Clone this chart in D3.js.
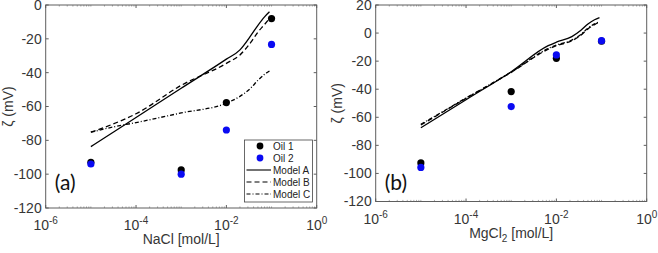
<!DOCTYPE html>
<html>
<head>
<meta charset="utf-8">
<script src="https://cdn.jsdelivr.net/npm/d3@7"></script>
<style>
  body { margin: 0; background: #fff; }
  svg { display: block; font-family: "Liberation Sans", Arial, sans-serif; }
</style>
</head>
<body>
<svg id="chart" width="658" height="253"></svg>
<script>
// measured concentrations (mol/L)
const conc = [1e-5, 1e-3, 1e-2, 1e-1];

// panel (a): NaCl
const naclOil1 = [-93, -97.5, -57.7, -8];
const naclOil2 = [-94, -100, -73.9, -23.3];
const naclModelX = [1e-5, 3e-5, 1e-4, 1e-3, 1e-2, 2e-2, 3.5e-2, 5e-2, 7e-2, 9e-2];
const naclModelA = [-83.7, -75.5, -66.5, -49.2, -32, -26.5, -18, -12, -7, -4];
const naclModelB = [-75.2, -70.5, -64.3, -47.5, -34.5, -29.5, -22, -16, -11.5, -8];
const naclModelC = [-75.2, -72.2, -69.5, -63.8, -58, -54, -49, -44.5, -41, -39];

// panel (b): MgCl2
const mgOil1 = [-92.5, -41.7, -18, -5.8];
const mgOil2 = [-95.7, -52.4, -15.6, -5.4];
const mgModelX = [1e-5, 1e-4, 1e-3, 6.6e-3, 1e-2, 2.2e-2, 3.5e-2, 5e-2, 7e-2, 9e-2];
const mgModelA = [-67.5, -47.5, -27.5, -9, -6.5, -2.5, 2, 6.5, 9.5, 11];
const mgModelB = [-65.5, -46.5, -28, -11.5, -9, -5.5, -1.5, 3, 6, 8];
const mgModelC = [-65, -46.3, -27.8, -11, -8.5, -5, -1, 3.5, 6.5, 8];

const xTicks = [1e-6, 1e-4, 1e-2, 1];
const xTickExp = ["-6", "-4", "-2", "0"];
const yTicksA = [0, -20, -40, -60, -80, -100, -120];
const yTicksB = [20, 0, -20, -40, -60, -80, -100, -120];

const legendNames = ["Oil 1", "Oil 2", "Model A", "Model B", "Model C"];
const oilColors = ["#000000", "#0a0af2"];
const dashes = [null, "5,3", "4,2,1,2"];

const svg = d3.select("#chart");
const axisColor = "#5e5e5e", textColor = "#363636";

function zip(xs, ys) { return xs.map((v, i) => [v, ys[i]]); }

function panel(opt) {
  let x = d3.scaleLog().domain([1e-6, 1]).range([opt.left, opt.right]);
  let y = d3.scaleLinear().domain(opt.yDomain).range([opt.bottom, opt.top]);
  let g = svg.append("g");

  // minor log ticks on top and bottom
  let minor = [];
  for (let e = -6; e < 0; e++)
    for (let k = 1; k < 10; k++) minor.push(k * Math.pow(10, e));
  minor = minor.filter(v => xTicks.every(t => Math.abs(Math.log10(v) - Math.log10(t)) > 1e-6));

  g.selectAll(".minb").data(minor).enter().append("line")
    .attr("x1", d => x(d)).attr("x2", d => x(d))
    .attr("y1", opt.bottom).attr("y2", opt.bottom - 1.6)
    .attr("stroke", "#8a8a8a").attr("stroke-width", 0.7);
  g.selectAll(".mint").data(minor).enter().append("line")
    .attr("x1", d => x(d)).attr("x2", d => x(d))
    .attr("y1", opt.top).attr("y2", opt.top + 1.6)
    .attr("stroke", "#8a8a8a").attr("stroke-width", 0.7);

  // major ticks
  xTicks.forEach(t => {
    g.append("line").attr("x1", x(t)).attr("x2", x(t))
      .attr("y1", opt.bottom).attr("y2", opt.bottom - 3)
      .attr("stroke", axisColor);
    g.append("line").attr("x1", x(t)).attr("x2", x(t))
      .attr("y1", opt.top).attr("y2", opt.top + 3)
      .attr("stroke", axisColor);
  });
  opt.yTicks.forEach(t => {
    g.append("line").attr("x1", opt.left).attr("x2", opt.left + 3)
      .attr("y1", y(t)).attr("y2", y(t)).attr("stroke", axisColor);
    g.append("line").attr("x1", opt.right).attr("x2", opt.right - 3)
      .attr("y1", y(t)).attr("y2", y(t)).attr("stroke", axisColor);
  });

  g.append("rect")
    .attr("x", opt.left).attr("y", opt.top)
    .attr("width", opt.right - opt.left).attr("height", opt.bottom - opt.top)
    .attr("fill", "none").attr("stroke", axisColor).attr("stroke-width", 1);

  // tick labels
  g.selectAll(".yl").data(opt.yTicks).enter().append("text")
    .attr("x", opt.left - 4).attr("y", d => y(d))
    .attr("dy", "0.35em").attr("text-anchor", "end")
    .attr("font-size", 14).attr("fill", textColor)
    .text(d => d);

  xTicks.forEach((t, i) => {
    let tx = g.append("text")
      .attr("x", x(t)).attr("y", opt.bottom + 22)
      .attr("text-anchor", "middle").attr("fill", textColor)
      .attr("font-size", 14);
    tx.append("tspan").text("10");
    tx.append("tspan").attr("dy", -6).attr("font-size", 10).text(xTickExp[i]);
  });

  // axis titles
  let xt = g.append("text")
    .attr("x", (opt.left + opt.right) / 2).attr("y", opt.bottom + 36)
    .attr("text-anchor", "middle").attr("font-size", 14).attr("fill", textColor);
  opt.xTitle.forEach(p => {
    let s = xt.append("tspan").text(p.t);
    if (p.sub) s.attr("font-size", 10).attr("dy", 4);
    if (p.back) s.attr("dy", -4);
  });

  g.append("text")
    .attr("transform", `translate(${opt.yTitleX},${(opt.top + opt.bottom) / 2}) rotate(-90)`)
    .attr("text-anchor", "middle").attr("font-size", 14).attr("fill", textColor)
    .text("ζ (mV)");

  // model curves
  let line = d3.line().x(d => x(d[0])).y(d => y(d[1])).curve(d3.curveMonotoneX);
  opt.models.forEach((m, i) => {
    g.append("path").datum(zip(opt.modelX, m))
      .attr("d", line).attr("fill", "none")
      .attr("stroke", "#000").attr("stroke-width", 1.3)
      .attr("stroke-dasharray", dashes[i]);
  });

  // measured points
  opt.oils.forEach((o, i) => {
    g.selectAll(".p" + i).data(zip(conc, o)).enter().append("circle")
      .attr("cx", d => x(d[0])).attr("cy", d => y(d[1]))
      .attr("r", 3.6).attr("fill", oilColors[i]);
  });

  g.append("text")
    .attr("x", opt.left + 9).attr("y", opt.labelY)
    .attr("font-family", "Lato, 'Open Sans', sans-serif")
    .attr("font-size", 21).attr("fill", "#111")
    .text(opt.label);

  return g;
}

let ga = panel({
  left: 45.7, right: 316.7, top: 5, bottom: 208,
  yDomain: [-120, 0], yTicks: yTicksA,
  xTitle: [{ t: "NaCl [mol/L]" }], yTitleX: 12.5,
  modelX: naclModelX, models: [naclModelA, naclModelB, naclModelC],
  oils: [naclOil1, naclOil2], label: "(a)", labelY: 190
});

panel({
  left: 375.7, right: 646.7, top: 5, bottom: 201.5,
  yDomain: [-120, 20], yTicks: yTicksB,
  xTitle: [{ t: "MgCl" }, { t: "2", sub: true }, { t: " [mol/L]", back: true }], yTitleX: 342,
  modelX: mgModelX, models: [mgModelA, mgModelB, mgModelC],
  oils: [mgOil1, mgOil2], label: "(b)", labelY: 190
});

// legend in panel (a)
let lg = ga.append("g").attr("transform", "translate(244.5,140)");
lg.append("rect").attr("width", 68).attr("height", 62)
  .attr("fill", "#fff").attr("stroke", "#444").attr("stroke-width", 0.8);
legendNames.forEach((name, i) => {
  let cy = 6 + i * 12;
  if (i < 2) {
    lg.append("circle").attr("cx", 15.5).attr("cy", cy).attr("r", 3.4).attr("fill", oilColors[i]);
  } else {
    lg.append("line").attr("x1", 2).attr("x2", 26.5).attr("y1", cy).attr("y2", cy)
      .attr("stroke", "#000").attr("stroke-width", 1.1)
      .attr("stroke-dasharray", dashes[i - 2]);
  }
  lg.append("text").attr("x", 28.5).attr("y", cy).attr("dy", "0.35em")
    .attr("font-size", 10).attr("fill", "#222").text(name);
});
</script>
</body>
</html>
